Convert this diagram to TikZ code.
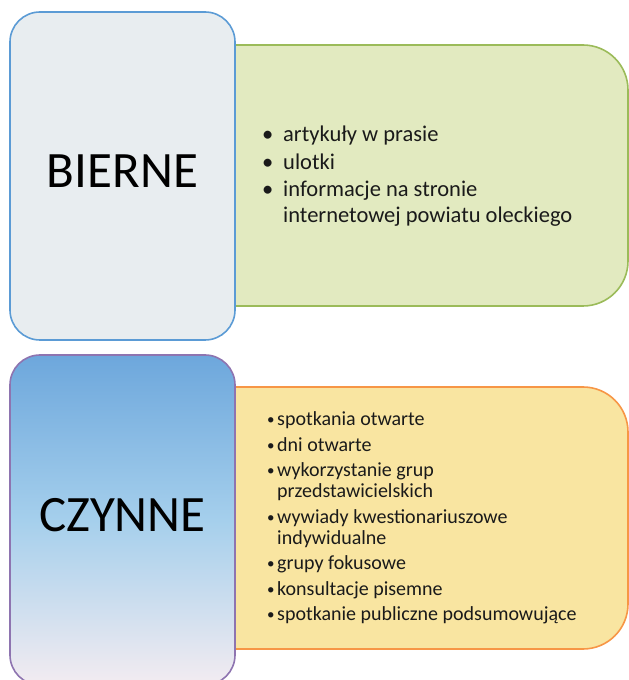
\documentclass[tikz,border=0pt]{standalone}
\usepackage{fontspec}
\setmainfont{Carlito}
\usetikzlibrary{positioning}
\definecolor{bluebd}{HTML}{5B9BD5}
\definecolor{bluefill}{HTML}{E8EDF0}
\definecolor{greenbd}{HTML}{9BBB59}
\definecolor{greenfill}{HTML}{E2EAC0}
\definecolor{purplebd}{HTML}{8E74B0}
\definecolor{gtop}{HTML}{6DA7DC}
\definecolor{gmid}{HTML}{A5CFEC}
\definecolor{gbot}{HTML}{F3ECF1}
\definecolor{orangebd}{HTML}{F79646}
\definecolor{orangefill}{HTML}{F9E5A1}
\definecolor{txt}{HTML}{1A1A1A}
\tikzset{
  catbox/.style={rectangle, rounded corners=30pt, line width=1.6pt,
    minimum width=225pt, inner sep=0pt},
  cattext/.style={font=\fontsize{51}{53}\selectfont, text=black, inner sep=0pt, anchor=base},
  panel/.style={line width=1.6pt},
  listnode/.style={anchor=base west, inner sep=0pt, text=txt, align=left}
}
\newcommand{\bitem}[1]{\makebox[21pt][l]{•}#1}
\newcommand{\citem}[1]{\makebox[11pt][l]{\hspace{1pt}\raisebox{1pt}{\fontsize{15}{15}\selectfont•}}#1}
\begin{document}
\begin{tikzpicture}[x=1pt,y=1pt]
\useasboundingbox (0,0) rectangle (629,680);
\begin{scope}
\clip (0,0) rectangle (629,680);
% green panel (behind)
\draw[panel, draw=greenbd, fill=greenfill]
  (220,635) -- (583,635) arc[start angle=90,end angle=0,radius=45]
  -- (628,419) arc[start angle=0,end angle=-90,radius=45] -- (220,374) -- cycle;
% orange panel
\draw[panel, draw=orangebd, fill=orangefill]
  (220,293) -- (583,293) arc[start angle=90,end angle=0,radius=45]
  -- (628,76) arc[start angle=0,end angle=-90,radius=45] -- (220,31) -- cycle;
% left boxes
\node[catbox, draw=bluebd, fill=bluefill, minimum height=328pt] (bierne) at (122.5,504) {};
\node[catbox, draw=purplebd, top color=gtop, bottom color=gbot, middle color=gmid, minimum height=330pt] (czynne) at (122.5,160) {};
\end{scope}
\node[cattext] (bt) at (122.5,492) {BIERNE};
\node[cattext] (ct) at (122.5,148) {CZYNNE};
% lists (anchored at the baseline of their last line)
\node[listnode, font=\fontsize{22.5}{26}\selectfont] (blist) at (262,457) {%
  \bitem{artykuły w prasie}\\[1.5pt]
  \bitem{ulotki}\\[1.5pt]
  \bitem{informacje na stronie}\\
  \hspace*{21pt}internetowej powiatu oleckiego};
\node[listnode, font=\fontsize{20}{21}\selectfont] (clist) at (266,59.3) {%
  \citem{spotkania otwarte}\\[4.5pt]
  \citem{dni otwarte}\\[4.5pt]
  \citem{wykorzystanie grup}\\
  \hspace*{11pt}przedstawicielskich\\[4.5pt]
  \citem{wywiady kwestionariuszowe}\\
  \hspace*{11pt}indywidualne\\[4.5pt]
  \citem{grupy fokusowe}\\[4.5pt]
  \citem{konsultacje pisemne}\\[4.5pt]
  \citem{spotkanie publiczne podsumowujące}};
\end{tikzpicture}
\end{document}
